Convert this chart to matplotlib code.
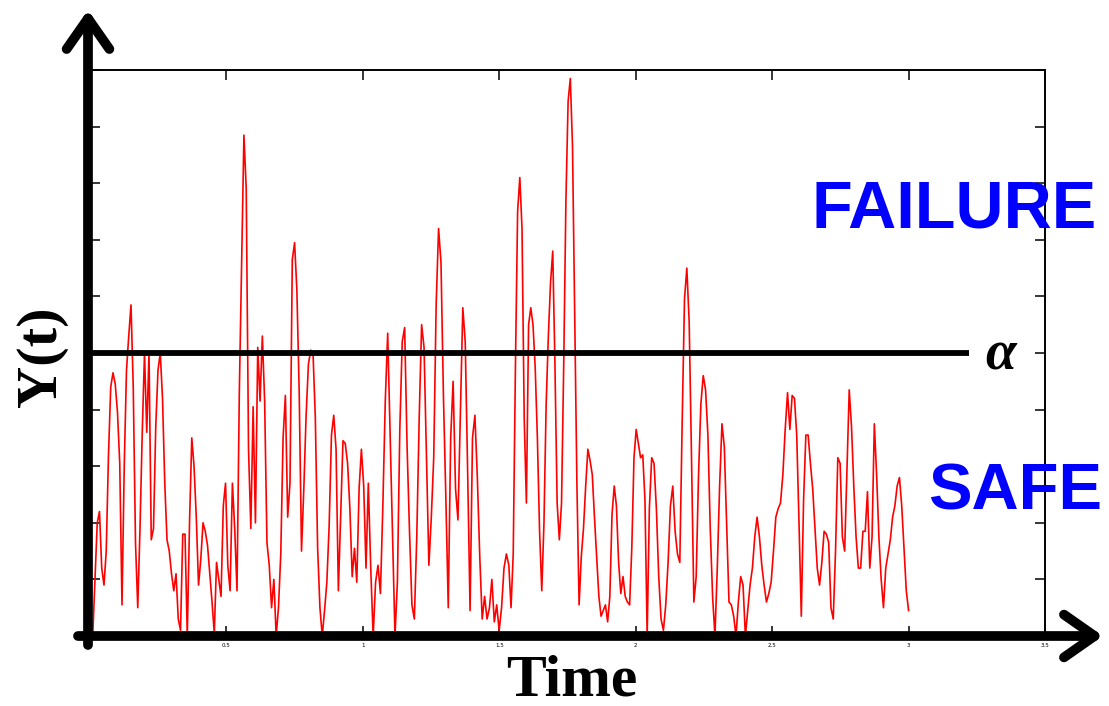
import numpy as np
import matplotlib
matplotlib.use("Agg")
from matplotlib import pyplot as plt

# signal values, one list per stretch of the time axis
seg1 = [0.0, 1.0, 2.0, 2.2, 1.2, 0.9, 1.5, 3.2, 4.4, 4.65, 4.45, 3.95, 3.05, 0.55, 3.0, 4.7, 5.3, 5.85, 4.4, 1.65,
        0.5, 1.9, 3.6, 5.0, 3.6, 5.0, 1.7, 1.9, 3.7, 4.7, 5.0, 4.2, 2.7, 1.7, 1.5, 1.1, 0.8, 1.1, 0.3, 0.1,
        1.8, 1.8, 0.0, 2.0, 3.5, 3.0, 2.1, 0.9, 1.35, 2.0, 1.85, 1.6, 1.1, 0.6, 0.05, 1.3, 1.0, 0.7, 2.3, 2.7]
seg2 = [1.25, 0.8, 2.7, 1.9, 0.8, 4.3, 6.6, 8.85, 7.9, 3.3, 1.9, 4.05, 2.0, 5.1, 4.15, 5.3, 4.15, 1.65, 1.25, 0.5,
        1.0, 0.0, 0.5, 1.45, 3.5, 4.25, 2.1, 2.7, 6.65, 6.95, 6.1, 4.3, 1.5, 2.6, 3.9, 4.8, 5.05, 5.0, 3.85, 1.55,
        0.5, 0.0, 0.45, 0.95, 1.95, 3.55, 3.9, 3.3, 0.8, 2.15, 3.45, 3.4, 3.05, 2.25, 1.05, 1.55, 0.95, 2.6, 3.3, 2.65, 1.2]
seg3 = [2.7, 1.2, 0.0, 0.95, 1.25, 0.75, 2.3, 4.15, 5.35, 3.55, 1.75, 0.0, 0.95, 3.65, 5.2, 5.45, 3.35, 1.85, 0.55, 0.3,
        1.75, 3.85, 5.5, 5.1, 3.2, 1.25, 2.1, 3.15, 5.85, 7.2, 6.6, 4.25, 2.45, 0.5, 3.5, 4.5, 2.6, 2.05, 3.9, 5.8,
        5.2, 2.9, 0.45, 3.5, 3.9, 2.8, 1.4, 0.3, 0.7, 0.3, 0.5, 1.0, 0.25, 0.55, 0.1, 0.5, 1.2, 1.45]
seg4 = [1.25, 0.5, 1.45, 4.75, 7.5, 8.1, 7.2, 3.85, 2.35, 5.5, 5.8, 5.5, 4.75, 3.5, 1.85, 0.8, 2.0, 4.1, 5.3, 6.25,
        6.8, 4.8, 2.35, 1.7, 2.35, 4.8, 7.7, 9.45, 9.85, 8.65, 5.65, 2.7, 0.55, 1.4, 1.9, 2.65, 3.3, 3.1, 2.85, 2.1,
        1.4, 0.7, 0.35, 0.45, 0.55, 0.25, 0.7, 2.15, 2.65, 2.3, 1.3, 0.75, 1.05, 0.7, 0.6, 0.55, 1.55, 3.15, 3.65, 3.4,
        3.15, 3.2, 2.4, 0.0]
seg5 = [2.25, 3.15, 3.05, 2.25, 1.05, 0.3, 0.1, 0.55, 1.3, 2.3, 2.65, 1.85, 1.45, 1.3, 3.75, 5.95, 6.5, 5.55, 3.15, 0.6,
        1.05, 2.85, 4.1, 4.6, 4.35, 3.55, 1.9, 0.7, 0.0, 1.2, 2.65, 3.75, 3.35, 1.95, 0.6, 0.55, 0.35, 0.0, 0.6, 1.05,
        0.9, 0.0, 0.45, 0.9, 1.2, 1.75, 2.1, 1.75, 1.25, 0.9, 0.6, 0.75, 0.95, 1.5, 2.1, 2.25, 2.35, 2.85, 3.65, 4.3]
seg6 = [3.65, 4.25, 4.2, 3.55, 2.0, 0.35, 2.4, 3.55, 3.55, 3.05, 2.6, 1.9, 1.2, 0.9, 1.3, 1.85, 1.8, 1.65, 0.5, 0.3,
        1.5, 3.15, 3.05, 1.75, 1.5, 2.9, 4.35, 3.7, 2.65, 1.75, 1.2, 1.2, 1.85, 1.85, 2.55, 1.2, 1.75, 3.75, 2.85, 1.75,
        1.0, 0.5, 1.2, 1.45, 1.7, 2.1, 2.3, 2.65, 2.8, 2.3, 1.55, 0.8, 0.45]
segments = [seg1, seg2, seg3, seg4, seg5, seg6]
seg_edges = [0.01, 0.505, 1.02, 1.535, 2.05, 2.565, 3.0]

alpha_level = 5.0
alpha_end = 3.22
xticks = [0, 0.5, 1, 1.5, 2, 2.5, 3, 3.5]
xticklabels = ["0", "0.5", "1", "1.5", "2", "2.5", "3", "3.5"]

t = []
y = []
for i, seg in enumerate(segments):
    last = i == len(segments) - 1
    t.extend(np.linspace(seg_edges[i], seg_edges[i + 1], len(seg), endpoint=last))
    y.extend(seg)
t = np.array(t)
y = np.array(y)

W, H = 1109, 706
fig = plt.figure(figsize=(W / 100, H / 100), dpi=100)
ax = fig.add_axes([90 / W, 1 - 636 / H, (1045 - 90) / W, (636 - 70) / H])

ax.plot(t, y, color="#ff0000", lw=1.2, zorder=2)
ax.plot([0, alpha_end], [alpha_level, alpha_level], color="black", lw=4.2,
        solid_capstyle="butt", zorder=3, clip_on=False)

ax.set_xlim(0, 3.5)
ax.set_ylim(0, 10)
ax.set_xticks(xticks)
ax.set_xticklabels(xticklabels, fontsize=4)
ax.set_yticks(np.arange(0, 11, 1))
ax.set_yticklabels([])
ax.tick_params(axis="both", direction="in", length=7, width=1.1, top=True, right=True, pad=5)
for side in ["top", "right"]:
    ax.spines[side].set_linewidth(1.4)
for side in ["left", "bottom"]:
    ax.spines[side].set_visible(False)

# thick axes with open arrow heads
arrow = dict(arrowstyle="->,head_length=1.0,head_width=0.7", lw=7, color="black",
             shrinkA=0, shrinkB=0, mutation_scale=22, capstyle="round", joinstyle="round")
ax.annotate("", xy=(1103 / W, 1 - 636 / H), xytext=(78 / W, 1 - 636 / H),
            xycoords="figure fraction", textcoords="figure fraction", arrowprops=arrow)
ax.annotate("", xy=(88 / W, 1 - 10 / H), xytext=(88 / W, 1 - 645 / H),
            xycoords="figure fraction", textcoords="figure fraction", arrowprops=arrow)

fig.text(954 / W, 1 - 211 / H, "FAILURE", color="#0000ff", fontsize=48, fontweight="bold",
         family="Liberation Sans", ha="center", va="center")
fig.text(1015 / W, 1 - 492 / H, "SAFE", color="#0000ff", fontsize=47, fontweight="bold",
         family="Liberation Sans", ha="center", va="center")
fig.text(1001 / W, 1 - 355 / H, "α", fontsize=40, fontweight="bold", fontstyle="italic",
         family="Liberation Serif", ha="center", va="center")
fig.text(42 / W, 1 - 357 / H, "Y(t)", fontsize=42, fontweight="bold", family="Liberation Serif",
         rotation=90, ha="center", va="center")
fig.text(572 / W, 1 - 681 / H, "Time", fontsize=43, fontweight="bold", family="Liberation Serif",
         ha="center", va="center")

fig.savefig("out.png", dpi=100)
